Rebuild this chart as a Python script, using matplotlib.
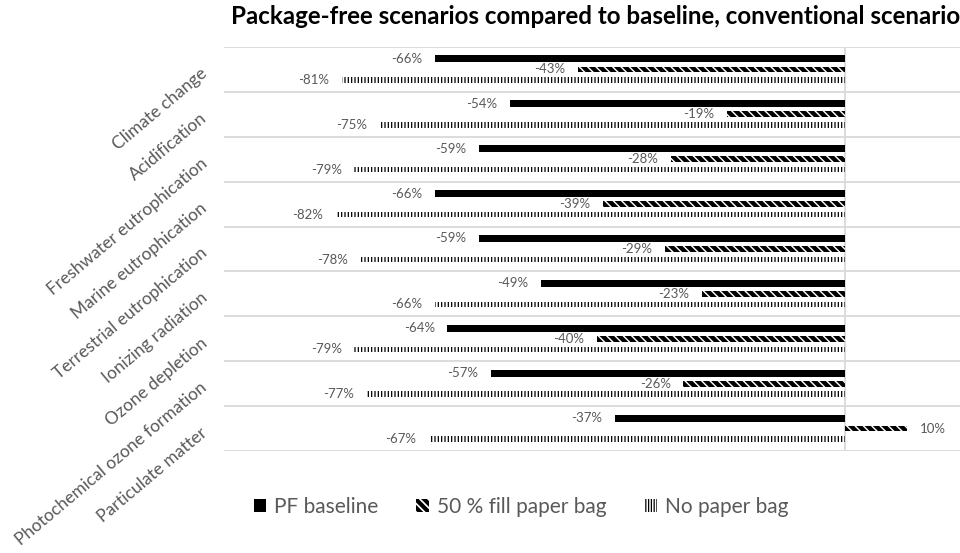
import matplotlib
matplotlib.use("Agg")
import matplotlib.pyplot as plt
from matplotlib.patches import Patch
from matplotlib.transforms import ScaledTranslation
import numpy as np

plt.rcParams['font.family'] = ['Lato', 'DejaVu Sans']

categories = [
    "Climate change",
    "Acidification",
    "Freshwater eutrophication",
    "Marine eutrophication",
    "Terrestrial eutrophication",
    "Ionizing radiation",
    "Ozone depletion",
    "Photochemical ozone formation",
    "Particulate matter",
]
series_names = ["PF baseline", "50 % fill paper bag", "No paper bag"]
pf_baseline = [-66, -54, -59, -66, -59, -49, -64, -57, -37]
fill_50_bag = [-43, -19, -28, -39, -29, -23, -40, -26, 10]
no_paper_bag = [-81, -75, -79, -82, -78, -66, -79, -77, -67]

TEXT = "#595959"
GRID = "#d9d9d9"

W, H = 960, 553
fig = plt.figure(figsize=(W / 100, H / 100), dpi=100)
ax = fig.add_axes([224 / W, 1 - 451 / H, 745 / W, 404 / H])

y = np.arange(len(categories))
offsets = [-0.234, 0.0, 0.234]
heights = [0.155, 0.13, 0.12]
styles = [
    dict(color="black", hatch=None, hlw=1.0),
    dict(color="white", edgecolor="black", hatch="\\\\\\\\", hlw=3.2),
    dict(color="white", edgecolor="black", hatch="|||||", hlw=0.9),
]
data = [pf_baseline, fill_50_bag, no_paper_bag]

for vals, off, h, st in zip(data, offsets, heights, styles):
    v = np.array(vals) / 100.0
    with plt.rc_context({'hatch.linewidth': st['hlw']}):
        kw = dict(height=h, color=st['color'], linewidth=0)
        if st['hatch']:
            kw.update(edgecolor=st['edgecolor'], hatch=st['hatch'])
        bars = ax.barh(y + off, v, **kw)
        for b in bars:
            if hasattr(b, 'set_hatch_linewidth'):
                b.set_hatch_linewidth(st['hlw'])
    for yi, val in zip(y + off, vals):
        if val < 0:
            tr = ax.transData + ScaledTranslation(-9 / 72, 0, fig.dpi_scale_trans)
            ax.text(val / 100.0, yi, f"{val}%", ha="right", va="center",
                    fontsize=9.5, color=TEXT, transform=tr)
        else:
            tr = ax.transData + ScaledTranslation(9 / 72, 0, fig.dpi_scale_trans)
            ax.text(val / 100.0, yi, f"{val}%", ha="left", va="center",
                    fontsize=9.5, color=TEXT, transform=tr)

ax.set_xlim(-1.0, 0.2)
ax.set_ylim(len(categories) - 0.5, -0.5)
for edge in np.arange(-0.5, len(categories), 1.0):
    ax.axhline(edge, color=GRID, linewidth=1.3, zorder=0)
ax.axvline(0, color=GRID, linewidth=1.3, zorder=0)

for s in ax.spines.values():
    s.set_visible(False)
ax.set_xticks([])
ax.set_yticks([])

# rotated category labels
lab_tr = ax.get_yaxis_transform() + ScaledTranslation(-19 / 100, -2 / 100, fig.dpi_scale_trans)
for yi, name in zip(y, categories):
    ax.text(0, yi, name, rotation=40, rotation_mode="anchor", ha="right", va="center",
            fontsize=12.5, color=TEXT, transform=lab_tr)

fig.text(596 / W, 1 - 17 / H,
         "Package-free scenarios compared to baseline, conventional scenario",
         ha="center", va="center", fontsize=17.4, fontweight="bold", color="black")

handles = [
    Patch(facecolor="black", edgecolor="black", linewidth=0),
    Patch(facecolor="white", edgecolor="black", hatch="\\\\\\\\", linewidth=0),
    Patch(facecolor="white", edgecolor="black", hatch="||||||", linewidth=0),
]
with plt.rc_context({'hatch.linewidth': 3.0}):
    leg = fig.legend(handles, series_names, loc="center", bbox_to_anchor=(521 / W, 1 - 507 / H),
                     ncol=3, frameon=False, fontsize=15, handlelength=0.6, handleheight=0.6,
                     handletextpad=0.4, columnspacing=1.8, borderaxespad=0)
leg_handles = getattr(leg, "legend_handles", None) or leg.legendHandles
for hnd, hw in zip(leg_handles, [1.0, 3.0, 0.9]):
    if hasattr(hnd, 'set_hatch_linewidth'):
        hnd.set_hatch_linewidth(hw)
for t in leg.get_texts():
    t.set_color(TEXT)

fig.savefig("out.png", dpi=100)
